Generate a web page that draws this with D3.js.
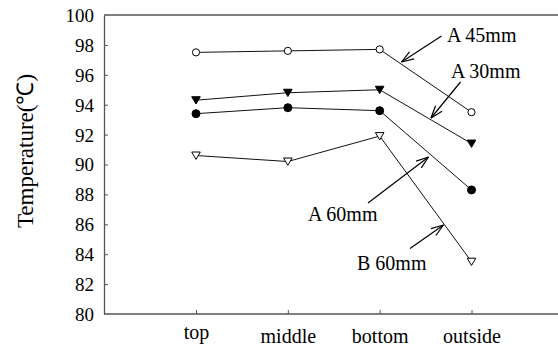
<!DOCTYPE html>
<html><head><meta charset="utf-8">
<script src="https://cdn.jsdelivr.net/npm/d3@7"></script>
</head><body style="margin:0;background:#fff"><svg id="c" width="558" height="347" style="display:block"></svg>
<script>
const categories = ["top", "middle", "bottom", "outside"];
const seriesA45 = [97.5, 97.6, 97.7, 93.5];
const seriesA30 = [94.3, 94.8, 95.0, 91.4];
const seriesA60 = [93.4, 93.8, 93.6, 88.3];
const seriesB60 = [90.6, 90.2, 91.9, 83.5];
const yTicks = [80, 82, 84, 86, 88, 90, 92, 94, 96, 98, 100];
const seriesNames = ["A 45mm", "A 30mm", "A 60mm", "B 60mm"];

const FONT = "Liberation Serif";
const svg = d3.select("#c").attr("font-family", FONT);
const L = 104, R = 558, T = 15, B = 314;
const y = d3.scaleLinear().domain([80, 100]).range([B, T]);
const x = d3.scalePoint().domain(categories).range([196, 471.5]);

svg.append("line").attr("x1", L).attr("x2", R).attr("y1", T).attr("y2", T).attr("stroke", "#555").attr("stroke-width", 1.3);

const yAxis = d3.axisLeft(y).tickValues(yTicks).tickSizeInner(-4).tickSizeOuter(0).tickPadding(10);
const gy = svg.append("g").attr("transform", `translate(${L},0)`).call(yAxis);
gy.attr("font-family", FONT).attr("font-size", 19);
gy.select(".domain").attr("stroke", "#555").attr("stroke-width", 1.3);
gy.selectAll(".tick line").attr("stroke", "#555");
gy.selectAll(".tick text").attr("fill", "#000").attr("dy", "0.34em");
gy.selectAll(".tick").filter(d => d === 100 || d === 80).select("line").remove();

const xAxis = d3.axisBottom(x).tickSizeInner(-4).tickSizeOuter(0).tickPadding(14);
const gx = svg.append("g").attr("transform", `translate(0,${B})`).call(xAxis);
gx.attr("font-family", FONT).attr("font-size", 20);
gx.select(".domain").attr("d", `M${L},0H${R}`).attr("stroke", "#555").attr("stroke-width", 1.3);
gx.selectAll(".tick line").attr("stroke", "#555");
gx.selectAll(".tick text").attr("fill", "#000")
  .attr("dy", d => d === "top" ? "0.55em" : "0.75em");

svg.append("text").attr("transform", "translate(33,151) rotate(-90)").attr("text-anchor", "middle")
  .attr("font-family", FONT).attr("font-size", 23).text("Temperature(℃)");

const line = d3.line().x((d, i) => x(categories[i])).y(d => y(d));
const all = [
  {v: seriesA45, m: "circle", fill: "#fff"},
  {v: seriesA30, m: "tri", fill: "#000"},
  {v: seriesA60, m: "circle", fill: "#000"},
  {v: seriesB60, m: "tri", fill: "#fff"}
];
all.forEach(s => {
  svg.append("path").attr("d", line(s.v)).attr("fill", "none").attr("stroke", "#111").attr("stroke-width", 1);
});
all.forEach(s => {
  s.v.forEach((d, i) => {
    const cx = x(categories[i]), cy = y(d);
    if (s.m === "circle") {
      svg.append("circle").attr("cx", cx).attr("cy", cy).attr("r", s.fill === "#000" ? 4 : 3.6)
        .attr("fill", s.fill).attr("stroke", "#000").attr("stroke-width", 1);
    } else {
      svg.append("path").attr("d", `M${cx-4.3},${cy-3.5}L${cx+4.3},${cy-3.5}L${cx},${cy+3.8}Z`)
        .attr("fill", s.fill).attr("stroke", "#000").attr("stroke-width", 1);
    }
  });
});

const notes = [
  {t: seriesNames[0], tx: 447, ty: 42, x1: 441.5, y1: 36, x2: 401.5, y2: 62},
  {t: seriesNames[1], tx: 451, ty: 78, x1: 460.5, y1: 82, x2: 431, y2: 118},
  {t: seriesNames[2], tx: 308, ty: 221, x1: 368, y1: 203, x2: 428.5, y2: 157},
  {t: seriesNames[3], tx: 357, ty: 270, x1: 410, y1: 248.5, x2: 443.5, y2: 225}
];
notes.forEach(n => {
  svg.append("text").attr("x", n.tx).attr("y", n.ty).attr("font-family", FONT).attr("font-size", 20).text(n.t);
  svg.append("line").attr("x1", n.x1).attr("y1", n.y1).attr("x2", n.x2).attr("y2", n.y2).attr("stroke", "#000").attr("stroke-width", 1.2);
  const a = Math.atan2(n.y1 - n.y2, n.x1 - n.x2), len = 13, sp = 0.33;
  [a - sp, a + sp].forEach(b => {
    svg.append("line").attr("x1", n.x2).attr("y1", n.y2)
      .attr("x2", n.x2 + len * Math.cos(b)).attr("y2", n.y2 + len * Math.sin(b))
      .attr("stroke", "#000").attr("stroke-width", 1.2);
  });
});
</script></body></html>
